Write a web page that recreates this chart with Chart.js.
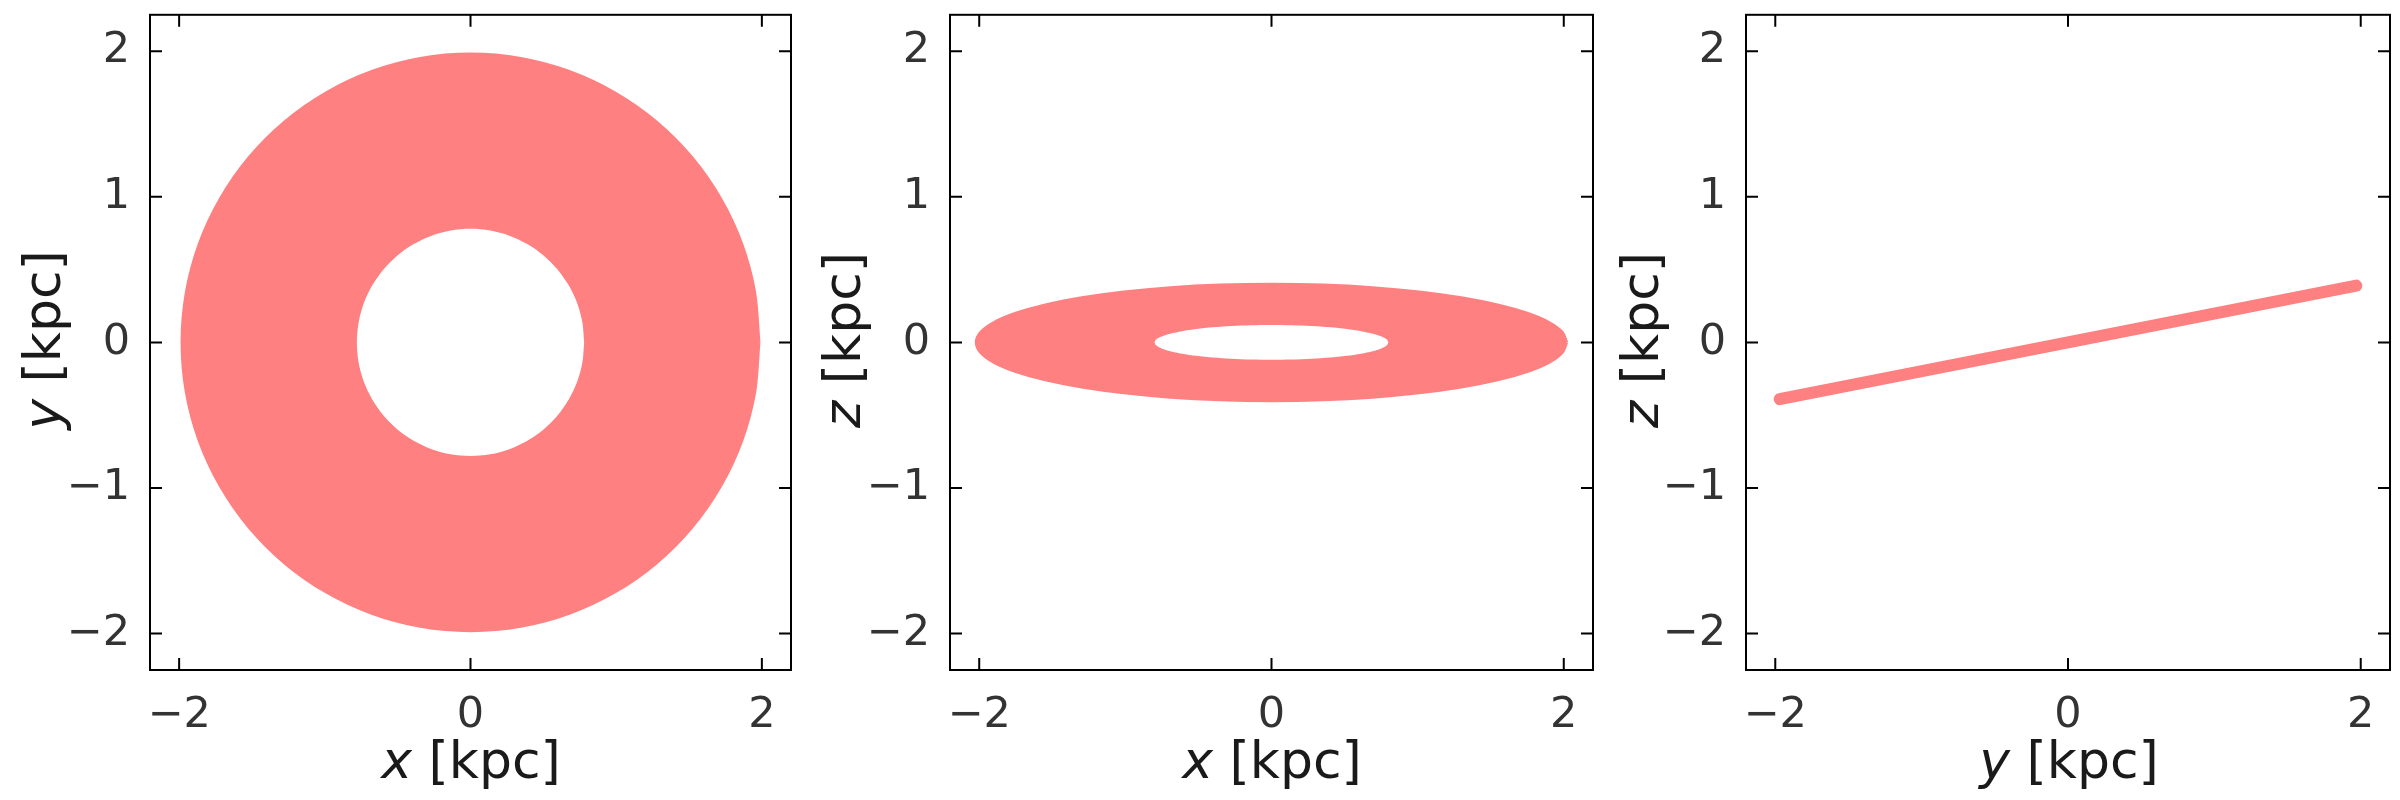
<!DOCTYPE html>
<html><head><meta charset="utf-8">
<script src="https://cdn.jsdelivr.net/npm/chart.js@4"></script>
<style>
body{margin:0;background:#fff;width:2400px;height:800px;position:relative;overflow:hidden;font-family:"DejaVu Sans";}
canvas{position:absolute;top:-23px;}
.t{position:absolute;font-size:52px;color:#1a1a1a;white-space:nowrap;width:300px;text-align:center;line-height:60px;}
.v{transform:rotate(-90deg);transform-origin:center;}
</style></head><body>
<canvas id="c1" width="810" height="823" style="left:0"></canvas>
<canvas id="c2" width="810" height="823" style="left:800px"></canvas>
<canvas id="c3" width="804" height="823" style="left:1596px"></canvas>
<div class="t" style="left:321px;top:730px"><i>x</i> [kpc]</div>
<div class="t" style="left:1122px;top:730px"><i>x</i> [kpc]</div>
<div class="t" style="left:1919px;top:730px"><i>y</i> [kpc]</div>
<div class="t v" style="left:-108px;top:310px"><i>y</i> [kpc]</div>
<div class="t v" style="left:692px;top:310px"><i>z</i> [kpc]</div>
<div class="t v" style="left:1490px;top:310px"><i>z</i> [kpc]</div>
<script>
// unit-circle sample directions (36 points, 10° apart)
const cosA=[1,0.985,0.940,0.866,0.766,0.643,0.5,0.342,0.174,0,-0.174,-0.342,-0.5,-0.643,-0.766,-0.866,-0.940,-0.985,-1,-0.985,-0.940,-0.866,-0.766,-0.643,-0.5,-0.342,-0.174,0,0.174,0.342,0.5,0.643,0.766,0.866,0.940,0.985];
const sinA=[0,0.174,0.342,0.5,0.643,0.766,0.866,0.940,0.985,1,0.985,0.940,0.866,0.766,0.643,0.5,0.342,0.174,0,-0.174,-0.342,-0.5,-0.643,-0.766,-0.866,-0.940,-0.985,-1,-0.985,-0.940,-0.866,-0.766,-0.643,-0.5,-0.342,-0.174];
// x-y panel: outer and inner radius of the orbit band
const xyOuter=1.98, xyInner=0.78;
// x-z panel: ellipse semi-axes of band edges
const xzOuterX=2.02, xzOuterZ=0.40, xzInnerX=0.80, xzInnerZ=0.12;
// y-z panel: line end points
const yzY=[-1.97,1.97], yzZ=[-0.39,0.39];
const xTicks=[-2,0,2], yTicks=[-2,-1,0,1,2];
const pink='#ff8080';

const loop=(rx,ry)=>{const p=cosA.map((c,i)=>({x:c*rx,y:sinA[i]*ry}));p.push(p[0]);return p;};
const fmt=v=>(v<0?'\u2212':'')+Math.abs(v);
const inTicks={id:'inTicks',afterDraw(ch){const c=ch.ctx,a=ch.chartArea;c.save();c.strokeStyle='#000';c.lineWidth=2;
 ch.scales.x.ticks.forEach(t=>{const p=ch.scales.x.getPixelForValue(t.value);c.beginPath();c.moveTo(p,a.bottom);c.lineTo(p,a.bottom-12);c.moveTo(p,a.top);c.lineTo(p,a.top+12);c.stroke();});
 ch.scales.y.ticks.forEach(t=>{const p=ch.scales.y.getPixelForValue(t.value);c.beginPath();c.moveTo(a.left,p);c.lineTo(a.left+12,p);c.moveTo(a.right,p);c.lineTo(a.right-12,p);c.stroke();});
 c.strokeRect(a.left,a.top,a.right-a.left,a.bottom-a.top);c.restore();}};
function mk(id,datasets,xr,rightPad){
 const tk={color:'#333',font:{family:'DejaVu Sans',size:43},padding:12};
 new Chart(document.getElementById(id),{type:'scatter',data:{datasets},
 options:{responsive:false,devicePixelRatio:1,animation:false,
  layout:{padding:{top:0,right:rightPad,left:0,bottom:0}},
  plugins:{legend:{display:false},tooltip:{enabled:false},filler:{drawTime:'beforeDatasetDraw'}},
  elements:{point:{radius:0}},
  scales:{
   x:{min:-xr,max:xr,afterBuildTicks:s=>{s.ticks=xTicks.map(v=>({value:v}));},ticks:{...tk,callback:fmt,maxRotation:0},grid:{display:false},border:{display:false},afterFit:s=>{s.height=130;}},
   y:{min:-2.25,max:2.25,afterBuildTicks:s=>{s.ticks=yTicks.map(v=>({value:v}));},ticks:{...tk,callback:fmt},grid:{display:false},border:{display:false},afterFit:s=>{s.width=150;}}
  }},plugins:[inTicks]});
}
mk('c1',[
 {data:loop(xyInner,xyInner),showLine:true,fill:'shape',backgroundColor:'#fff',borderColor:'#fff',borderWidth:0,tension:0.3,order:0},
 {data:loop(xyOuter,xyOuter),showLine:true,fill:'shape',backgroundColor:pink,borderColor:pink,borderWidth:3,tension:0.3,order:1}],2.2,19);
mk('c2',[
 {data:loop(xzInnerX,xzInnerZ),showLine:true,fill:'shape',backgroundColor:'#fff',borderColor:'#fff',borderWidth:0,tension:0.3,order:0},
 {data:loop(xzOuterX,xzOuterZ),showLine:true,fill:'shape',backgroundColor:pink,borderColor:pink,borderWidth:3,tension:0.3,order:1}],2.2,17);
mk('c3',[{data:yzY.map((v,i)=>({x:v,y:yzZ[i]})),showLine:true,borderColor:pink,borderWidth:12,borderCapStyle:'round'}],2.2,10);
</script></body></html>
